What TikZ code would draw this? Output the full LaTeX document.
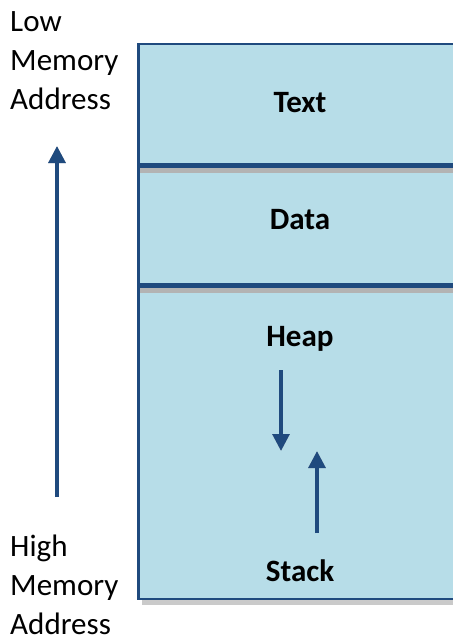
\documentclass[tikz,border=0pt]{standalone}
\usepackage{fontspec}
\setmainfont{Carlito}
\usetikzlibrary{arrows.meta}

\definecolor{segfill}{HTML}{B7DDE8}
\definecolor{segline}{HTML}{1F4A7E}
\definecolor{segshade}{HTML}{A6A6A6}

\begin{document}
\begin{tikzpicture}[x=0.03cm, y=-0.03cm,
    segname/.style={font=\fontsize{26.5}{32}\selectfont\bfseries,
        inner sep=0pt, anchor=base},
    addr/.style={font=\fontsize{26.5}{33.2}\selectfont, align=left,
        inner sep=0pt, anchor=base west},
    growarrow/.style={draw=segline, line width=3.3pt,
        -{Triangle[length=0.51cm, width=0.5cm]}},
    growshade/.style={growarrow, draw=segshade!70, fill=segshade!70,
        shift={(0.5,3)}},
]

% === Page frame ===
\useasboundingbox (0,0) rectangle (453,639);

% === Column / row positions ===
\def\boxL{138.5}   % left edge of the segment box
\def\boxT{44}      % top edge
\def\boxB{599}     % bottom edge
\def\boxR{470}     % runs off the page on the right
\def\cutA{165.5}   % Text | Data
\def\cutB{285.8}   % Data | Heap
\def\colM{300}     % centre of the segment names

% === Segment box ===
\fill[segshade!60] (\boxL+3,\boxT+5) rectangle (\boxR,\boxB+6);
\fill[segfill, draw=segline, line width=2.4pt]
    (\boxL,\boxT) rectangle (\boxR,\boxB);

% Dividers (with a soft shadow underneath)
\draw[segshade!85, line width=4pt] (\boxL+1.5,\cutA+5) -- (\boxR,\cutA+5);
\draw[segline, line width=4.3pt] (\boxL,\cutA) -- (\boxR,\cutA);
\draw[segshade!85, line width=4pt] (\boxL+1.5,\cutB+5) -- (\boxR,\cutB+5);
\draw[segline, line width=4.3pt] (\boxL,\cutB) -- (\boxR,\cutB);

% === Segment names ===
\node[segname] (text)  at (\colM, 112) {Text};
\node[segname] (data)  at (\colM, 229) {Data};
\node[segname] (heap)  at (\colM, 346) {Heap};
\node[segname] (stack) at (\colM, 581) {Stack};

% === Address labels ===
\node[addr] (low)  at (10, 109) {Low\\Memory\\Address};
\node[addr] (high) at (10, 634) {High\\Memory\\Address};

% === Growth arrows ===
\coordinate (addrhi)   at (57, 497);
\coordinate (addrlo)   at (57, 146);
\coordinate (heaptop)  at (281, 370);
\coordinate (heapend)  at (281, 451);
\coordinate (stackbot) at (317, 533);
\coordinate (stackend) at (317, 451);

\draw[growshade] (addrhi) -- (addrlo);
\draw[growarrow] (addrhi) -- (addrlo);

\draw[growshade] (heaptop) -- (heapend);
\draw[growarrow] (heaptop) -- (heapend);

\draw[growshade] (stackbot) -- (stackend);
\draw[growarrow] (stackbot) -- (stackend);

\end{tikzpicture}
\end{document}
